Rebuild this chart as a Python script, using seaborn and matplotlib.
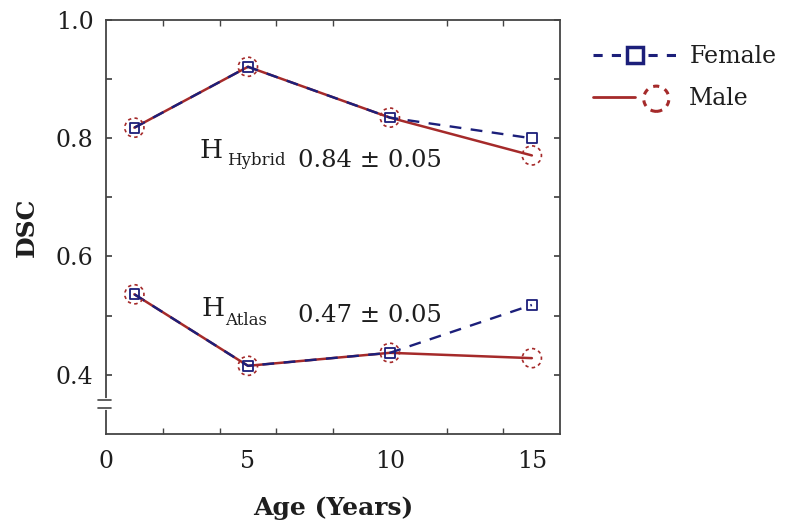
import numpy as np
import pandas as pd
import matplotlib
matplotlib.use("Agg")
import matplotlib.pyplot as plt
import seaborn as sns
from matplotlib.lines import Line2D
from matplotlib.legend_handler import HandlerTuple

ages = [1, 5, 10, 15]
hybrid_female = [0.818, 0.921, 0.835, 0.800]
hybrid_male = [0.818, 0.921, 0.835, 0.771]
atlas_female = [0.536, 0.415, 0.437, 0.518]
atlas_male = [0.536, 0.415, 0.437, 0.428]

rows = []
for metric, fem, mal in [("Hybrid", hybrid_female, hybrid_male), ("Atlas", atlas_female, atlas_male)]:
    for a, f, m in zip(ages, fem, mal):
        rows.append(dict(age=a, dsc=f, sex="Female", metric=metric))
        rows.append(dict(age=a, dsc=m, sex="Male", metric=metric))
df = pd.DataFrame(rows)

sns.set_theme(style="white")
plt.rcParams['font.family'] = ['DejaVu Serif']

NAVY = "#1c1f7a"
RED = "#a52a2a"
TXT = "#1e1e1e"

fig = plt.figure(figsize=(7.88, 5.29), dpi=100)
ax = fig.add_axes([0.1345, 0.180, 0.5765, 0.782])

for metric in ["Hybrid", "Atlas"]:
    sub = df[df.metric == metric]
    male = sub[sub.sex == "Male"]
    fem = sub[sub.sex == "Female"]
    sns.lineplot(data=male, x="age", y="dsc", color=RED, lw=1.8, ax=ax, legend=False, zorder=2)
    sns.lineplot(data=fem, x="age", y="dsc", color=NAVY, lw=1.7, ax=ax, legend=False,
                 zorder=3).lines[-1].set_dashes([5, 4])
    sns.scatterplot(data=male, x="age", y="dsc", marker="o", s=190, facecolors="none",
                    edgecolor=RED, linewidth=1.2, linestyle=(0, (2, 2)), ax=ax, legend=False, zorder=4)
    sns.scatterplot(data=fem, x="age", y="dsc", marker="s", s=49, facecolors="none",
                    edgecolor=NAVY, linewidth=1.3, ax=ax, legend=False, zorder=5)

ax.set_xlim(0, 16)
ax.set_ylim(0.3, 1.0)
ax.set_xticks([0, 5, 10, 15])
ax.set_xticklabels(["0", "5", "10", "15"])
ax.set_xticks(np.arange(2, 16, 2), minor=True)
ax.set_yticks(np.round(np.arange(0.4, 1.01, 0.1), 1))
ax.set_yticklabels(["0.4", "", "0.6", "", "0.8", "", "1.0"])
ax.tick_params(axis="x", which="major", length=0, pad=12, labelsize=17, labelcolor=TXT)
ax.tick_params(axis="x", which="minor", direction="in", length=4, top=True, bottom=True, color="#444444")
ax.tick_params(axis="y", which="major", direction="in", length=4, left=True, right=True,
               labelsize=17, pad=9, color="#444444", labelcolor=TXT)
for s in ax.spines.values():
    s.set_color("#444444")
    s.set_linewidth(1.3)

ax.set_xlabel("Age (Years)", fontsize=18, fontweight="bold", labelpad=16, color=TXT)
ax.set_ylabel("DSC", fontsize=18, fontweight="bold", labelpad=12, color=TXT)

# axis break marks
tr = ax.get_yaxis_transform()
ax.plot([0, 0], [0.343, 0.357], transform=tr, color="white", lw=3, clip_on=False, zorder=6)
for yb in [0.343, 0.357]:
    ax.plot([-0.018, 0.012], [yb, yb], transform=tr, color="#444444", lw=1.2, clip_on=False, zorder=7)

# annotations
ax.text(3.3, 0.767, "H", fontsize=19, color=TXT)
ax.text(4.25, 0.755, "Hybrid", fontsize=12, color=TXT)
ax.text(6.75, 0.752, "0.84 ± 0.05", fontsize=17.5, color=TXT)
ax.text(3.35, 0.499, "H", fontsize=19, color=TXT)
ax.text(4.2, 0.484, "Atlas", fontsize=12, color=TXT)
ax.text(6.75, 0.489, "0.47 ± 0.05", fontsize=17.5, color=TXT)

fl = Line2D([], [], color=NAVY, lw=2.2, dashes=[3, 3], marker="s", markersize=11,
            markerfacecolor="white", markeredgecolor=NAVY, markeredgewidth=2.5)
ml_line = Line2D([], [], color=RED, lw=2)
ml_mark = ax.scatter([], [], marker="o", s=330, facecolors="white", edgecolors=RED,
                     linewidths=2.2, linestyles=(0, (2, 2)))
fig.legend([fl, (ml_line, ml_mark)], ["Female", "Male"],
           handler_map={tuple: HandlerTuple(ndivide=None, pad=0)},
           loc="upper left", bbox_to_anchor=(0.725, 0.955), frameon=False,
           fontsize=17, handlelength=3.6, handletextpad=0.5, labelspacing=0.8,
           labelcolor=TXT)

fig.savefig("out.png", dpi=100, facecolor="white")
